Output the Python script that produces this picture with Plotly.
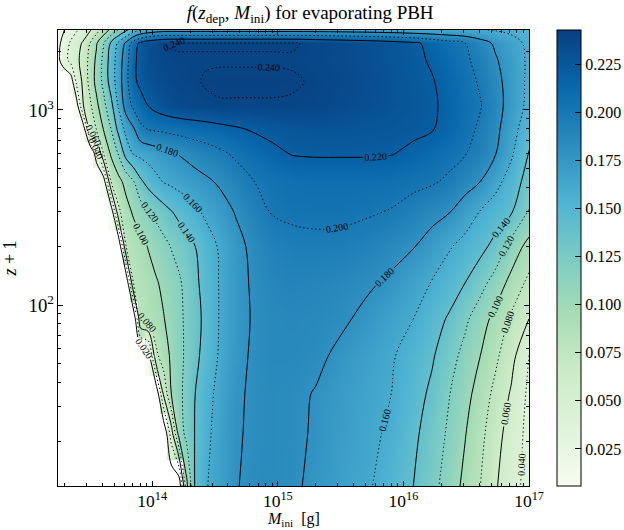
import numpy as np
import plotly.graph_objects as go

N = None  # no data (white region)

# initial PBH mass [g] (columns)
mass_g = [1.8e13, 2.0e13, 2.25e13, 2.5e13, 2.8e13, 3.2e13, 3.6e13, 4.1e13, 4.7e13, 5.4e13,
          6.2e13, 7.1e13, 8.1e13, 9.3e13, 1.07e14, 1.23e14, 1.42e14, 1.63e14, 1.88e14, 2.2e14,
          2.7e14, 3.5e14, 4.6e14, 6.5e14, 9e14, 1.3e15, 2e15, 3.2e15, 5e15, 8e15,
          1.2e16, 1.7e16, 2.3e16, 3.1e16, 4.1e16, 5.4e16, 7.2e16, 1e17]

# z+1 (rows, top to bottom)
z_plus_one = [2570, 2200, 1800, 1400, 1050, 800, 600, 430, 300, 200, 130, 85, 55, 35, 22, 11.8]

f_z2570 = [0.012, 0.020, 0.030, 0.038, 0.046, 0.058, 0.072, 0.088, 0.105, 0.122,
           0.137, 0.150, 0.160, 0.166, 0.170, 0.172, 0.172, 0.172, 0.172, 0.172,
           0.172, 0.172, 0.172, 0.172, 0.172, 0.172, 0.172, 0.171, 0.170, 0.168,
           0.166, 0.164, 0.163, 0.162, 0.161, 0.159, 0.156, 0.151]
f_z2200 = [0.016, 0.029, 0.043, 0.052, 0.062, 0.080, 0.098, 0.119, 0.143, 0.164,
           0.184, 0.210, 0.225, 0.232, 0.236, 0.239, 0.241, 0.241, 0.241, 0.241,
           0.241, 0.241, 0.241, 0.241, 0.241, 0.241, 0.238, 0.235, 0.232, 0.228,
           0.223, 0.215, 0.207, 0.200, 0.188, 0.177, 0.167, 0.156]
f_z1800 = [0.017, 0.033, 0.046, 0.055, 0.067, 0.086, 0.104, 0.125, 0.149, 0.169,
           0.192, 0.216, 0.226, 0.232, 0.235, 0.237, 0.238, 0.239, 0.239, 0.239,
           0.239, 0.239, 0.239, 0.239, 0.239, 0.239, 0.237, 0.235, 0.232, 0.228,
           0.224, 0.218, 0.211, 0.203, 0.194, 0.182, 0.170, 0.157]
f_z1400 = [N, N, 0.008, 0.045, 0.063, 0.087, 0.106, 0.125, 0.149, 0.170,
           0.194, 0.216, 0.225, 0.230, 0.233, 0.235, 0.237, 0.238, 0.239, 0.239,
           0.241, 0.242, 0.242, 0.242, 0.242, 0.241, 0.239, 0.236, 0.233, 0.229,
           0.225, 0.221, 0.214, 0.206, 0.198, 0.186, 0.172, 0.156]
f_z1050 = [N, N, N, 0.010, 0.058, 0.076, 0.095, 0.114, 0.134, 0.162,
           0.189, 0.204, 0.212, 0.220, 0.226, 0.230, 0.233, 0.235, 0.236, 0.237,
           0.238, 0.239, 0.239, 0.239, 0.239, 0.239, 0.238, 0.235, 0.232, 0.229,
           0.226, 0.222, 0.216, 0.208, 0.201, 0.188, 0.172, 0.155]
f_z800 = [N, N, N, N, 0.005, 0.065, 0.081, 0.101, 0.120, 0.146,
          0.166, 0.178, 0.196, 0.201, 0.203, 0.204, 0.206, 0.207, 0.209, 0.210,
          0.212, 0.215, 0.218, 0.222, 0.225, 0.227, 0.228, 0.228, 0.227, 0.226,
          0.224, 0.221, 0.214, 0.206, 0.197, 0.185, 0.168, 0.148]
f_z600 = [N, N, N, N, N, N, 0.030, 0.081, 0.103, 0.122,
          0.148, 0.162, 0.165, 0.168, 0.171, 0.174, 0.178, 0.181, 0.184, 0.188,
          0.192, 0.197, 0.203, 0.210, 0.216, 0.221, 0.222, 0.222, 0.222, 0.221,
          0.216, 0.211, 0.206, 0.201, 0.192, 0.181, 0.163, 0.139]
f_z430 = [N, N, N, N, N, N, N, 0.008, 0.080, 0.094,
          0.107, 0.119, 0.137, 0.147, 0.155, 0.161, 0.164, 0.167, 0.170, 0.173,
          0.177, 0.183, 0.191, 0.200, 0.204, 0.207, 0.208, 0.208, 0.208, 0.207,
          0.205, 0.202, 0.197, 0.188, 0.180, 0.166, 0.152, 0.131]
f_z300 = [N, N, N, N, N, N, N, N, 0.004, 0.076,
          0.092, 0.103, 0.110, 0.118, 0.125, 0.132, 0.139, 0.145, 0.150, 0.156,
          0.164, 0.172, 0.181, 0.192, 0.201, 0.203, 0.204, 0.204, 0.202, 0.199,
          0.192, 0.186, 0.181, 0.170, 0.159, 0.151, 0.142, 0.119]
f_z200 = [N, N, N, N, N, N, N, N, N, N,
          0.080, 0.087, 0.094, 0.101, 0.108, 0.114, 0.121, 0.127, 0.133, 0.140,
          0.151, 0.163, 0.174, 0.185, 0.192, 0.195, 0.196, 0.195, 0.192, 0.186,
          0.181, 0.172, 0.162, 0.154, 0.146, 0.134, 0.113, 0.093]
f_z130 = [N, N, N, N, N, N, N, N, N, N,
          N, 0.081, 0.086, 0.092, 0.098, 0.104, 0.111, 0.117, 0.126, 0.136,
          0.148, 0.162, 0.173, 0.183, 0.188, 0.190, 0.189, 0.187, 0.183, 0.177,
          0.167, 0.159, 0.150, 0.140, 0.127, 0.112, 0.094, 0.075]
f_z85 = [N, N, N, N, N, N, N, N, N, N,
         N, N, 0.081, 0.087, 0.093, 0.099, 0.107, 0.115, 0.124, 0.133,
         0.146, 0.162, 0.173, 0.182, 0.186, 0.187, 0.186, 0.183, 0.176, 0.167,
         0.160, 0.148, 0.138, 0.124, 0.109, 0.094, 0.077, 0.060]
f_z55 = [N, N, N, N, N, N, N, N, N, N,
         N, N, N, 0.008, 0.075, 0.091, 0.103, 0.114, 0.124, 0.135,
         0.148, 0.163, 0.174, 0.183, 0.186, 0.186, 0.184, 0.176, 0.169, 0.162,
         0.152, 0.142, 0.128, 0.114, 0.100, 0.084, 0.067, 0.040]
f_z35 = [N, N, N, N, N, N, N, N, N, N,
         N, N, N, N, N, 0.062, 0.100, 0.114, 0.127, 0.140,
         0.154, 0.166, 0.177, 0.183, 0.185, 0.184, 0.179, 0.172, 0.166, 0.160,
         0.148, 0.136, 0.121, 0.107, 0.091, 0.075, 0.058, 0.036]
f_z22 = [N, N, N, N, N, N, N, N, N, N,
         N, N, N, N, N, N, 0.050, 0.108, 0.126, 0.141,
         0.156, 0.168, 0.178, 0.183, 0.185, 0.184, 0.178, 0.171, 0.165, 0.157,
         0.144, 0.131, 0.117, 0.101, 0.085, 0.069, 0.050, 0.035]
f_z12 = [N, N, N, N, N, N, N, N, N, N,
         N, N, N, N, N, N, N, N, 0.095, 0.143,
         0.159, 0.169, 0.179, 0.184, 0.185, 0.183, 0.176, 0.169, 0.163, 0.152,
         0.140, 0.126, 0.111, 0.095, 0.080, 0.062, 0.048, 0.033]

rows = [f_z2570, f_z2200, f_z1800, f_z1400, f_z1050, f_z800, f_z600, f_z430,
        f_z300, f_z200, f_z130, f_z85, f_z55, f_z35, f_z22, f_z12]

colorbar_ticks = [0.025, 0.050, 0.075, 0.100, 0.125, 0.150, 0.175, 0.200, 0.225]
solid_levels = [0.02, 0.22, 0.04]    # start, end, step
dotted_levels = [0.04, 0.24, 0.04]

F = np.array([[np.nan if v is None else v for v in r] for r in rows], dtype=float)
y = np.array(z_plus_one, dtype=float)[::-1]
F = F[::-1]
F_lines = np.nan_to_num(F, nan=0.0)

FONT = "Liberation Serif"

fig = go.Figure()
fig.add_trace(go.Heatmap(
    x=mass_g, y=y, z=F, colorscale="GnBu", zmin=0.0057, zmax=0.243, zsmooth="best",
    hoverinfo="skip", showlegend=False,
    colorbar=dict(x=1.0594, xanchor="left", xpad=0, y=0.5, yanchor="middle", ypad=0,
                  len=1, thickness=24, outlinewidth=1, outlinecolor="black",
                  tickvals=colorbar_ticks, ticktext=[f"{v:.3f}" for v in colorbar_ticks],
                  ticks="inside", ticklen=6, tickcolor="black",
                  tickfont=dict(family=FONT, size=16, color="black")),
))


def contour_trace(levels, dash):
    return go.Contour(
        x=mass_g, y=y, z=F_lines, showscale=False, hoverinfo="skip", showlegend=False,
        contours=dict(coloring="none", start=levels[0], end=levels[1], size=levels[2],
                      showlabels=True, labelformat=".3f",
                      labelfont=dict(family=FONT, size=10, color="black")),
        line=dict(color="black", width=1, dash=dash, smoothing=1),
    )


fig.add_trace(contour_trace(solid_levels, "solid"))
fig.add_trace(contour_trace(dotted_levels, "1.3px,2.7px"))

axis_common = dict(
    type="log", dtick=1, exponentformat="power", showexponent="all",
    ticks="inside", ticklen=5, tickwidth=1, tickcolor="black",
    showline=True, linecolor="black", linewidth=1.2, mirror="ticks",
    minor=dict(ticks="inside", ticklen=3, dtick="D1", tickcolor="black", tickwidth=1),
    showgrid=False, zeroline=False,
    tickfont=dict(family=FONT, size=15, color="black"),
)

fig.update_layout(
    width=624, height=530, showlegend=False,
    margin=dict(l=58, r=95, t=30, b=44, autoexpand=False),
    paper_bgcolor="white", plot_bgcolor="white",
    font=dict(family=FONT, color="black"),
    title=dict(text="<i>f</i>(<i>z</i><sub>dep</sub>, <i>M</i><sub>ini</sub>) for evaporating PBH",
               x=0.497, xref="container", xanchor="center",
               y=0.976, yref="container", yanchor="middle",
               font=dict(family=FONT, size=19, color="black")),
    xaxis=dict(axis_common, range=[13.25, 17],
               tickfont=dict(family=FONT, size=14, color="black")),
    yaxis=dict(axis_common, range=[1.072, 3.41],
               title=dict(text="<i>z</i> + 1", standoff=8,
                          font=dict(family=FONT, size=18, color="black"))),
    annotations=[dict(text="<i>M</i><sub>ini</sub>  [g]", xref="paper", yref="paper",
                      x=0.5, y=-0.0725, xanchor="center", yanchor="middle", showarrow=False,
                      font=dict(family=FONT, size=16, color="black"))],
)

fig.write_html("out.html", config={"displayModeBar": False},
               post_script="document.body.style.margin='0px';")
